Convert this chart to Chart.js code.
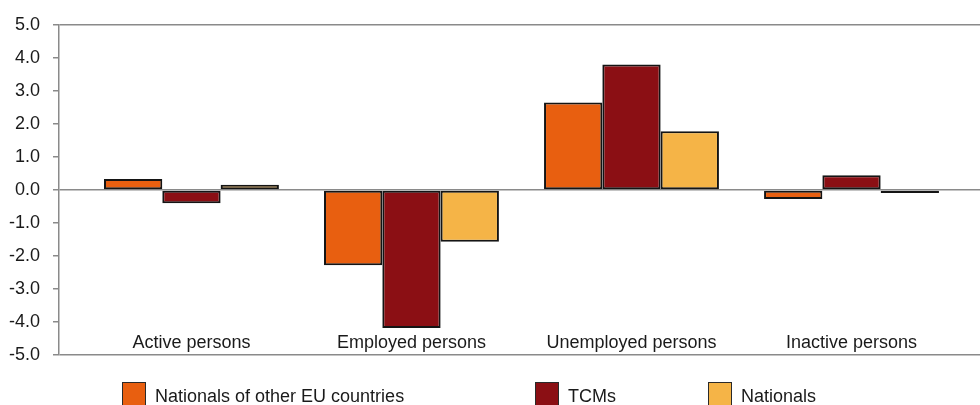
<!DOCTYPE html>
<html>
<head>
<meta charset="utf-8">
<script src="https://cdn.jsdelivr.net/npm/chart.js@4"></script>
<style>
  html, body { margin: 0; padding: 0; background: #fff; }
  #wrap { width: 980px; height: 405px; position: relative; }
</style>
</head>
<body>
<div id="wrap"><canvas id="labourChart"></canvas></div>
<script>
const categories = ['Active persons', 'Employed persons', 'Unemployed persons', 'Inactive persons'];
const seriesNames = ['Nationals of other EU countries', 'TCMs', 'Nationals'];
const otherEU = [0.33, -2.28, 2.65, -0.27];
const tcms = [-0.40, -4.18, 3.80, 0.45];
const nationals = [0.16, -1.57, 1.78, -0.09];
const yTicks = [5, 4, 3, 2, 1, 0, -1, -2, -3, -4, -5];

const colors = ['#E85F10', '#8B0F14', '#F5B447'];
const axisGray = '#8a8a8a';
const fontFamily = 'Arial, "Liberation Sans", sans-serif';

const toPoints = vals => vals.map((v, i) => ({ x: i, y: v }));

// category names sit inside the plot, just above the bottom line
const categoryLabels = {
  id: 'categoryLabels',
  afterDatasetsDraw(chart) {
    const { ctx, chartArea, scales } = chart;
    ctx.save();
    ctx.font = '18px ' + fontFamily;
    ctx.fillStyle = '#1a1a1a';
    ctx.textAlign = 'center';
    ctx.textBaseline = 'middle';
    categories.forEach((c, i) => {
      ctx.fillText(c, scales.x.getPixelForValue(i), chartArea.bottom - 12);
    });
    ctx.restore();
  }
};

// legend laid out in fixed columns under the plot
const columnLegend = {
  id: 'columnLegend',
  afterDraw(chart) {
    const { ctx } = chart;
    const lefts = [122, 535, 708];
    ctx.save();
    ctx.font = '18px ' + fontFamily;
    ctx.textBaseline = 'middle';
    chart.data.datasets.forEach((ds, i) => {
      const x = lefts[i];
      ctx.fillStyle = ds.backgroundColor;
      ctx.fillRect(x, 382, 23, 24);
      ctx.strokeStyle = '#2a2a2a';
      ctx.lineWidth = 1;
      ctx.strokeRect(x + 0.5, 382.5, 23, 24);
      ctx.fillStyle = '#1a1a1a';
      ctx.fillText(ds.label, x + 33, 397);
    });
    ctx.restore();
  }
};

const ctx = document.getElementById('labourChart').getContext('2d');
const labourChart = new Chart(ctx, {
  type: 'bar',
  data: {
    datasets: [
      { label: seriesNames[0], data: toPoints(otherEU), backgroundColor: colors[0] },
      { label: seriesNames[1], data: toPoints(tcms), backgroundColor: colors[1] },
      { label: seriesNames[2], data: toPoints(nationals), backgroundColor: colors[2] }
    ].map(ds => Object.assign(ds, {
      borderColor: '#141414',
      borderWidth: 2,
      borderSkipped: false,
      categoryPercentage: 0.795,
      barPercentage: 1.0
    }))
  },
  options: {
    responsive: true,
    maintainAspectRatio: false,
    animation: false,
    layout: { padding: { top: 25, bottom: 50, right: 0, left: 0 } },
    plugins: {
      legend: { display: false },
      tooltip: { enabled: false }
    },
    scales: {
      x: {
        type: 'linear',
        display: false,
        offset: false,
        min: -0.602,
        max: 3.584,
        // one tick per category so bar widths follow the category spacing
        afterBuildTicks(scale) { scale.ticks = categories.map((c, i) => ({ value: i })); }
      },
      y: {
        min: -5,
        max: 5,
        afterFit(scale) { scale.width = 59; },
        afterBuildTicks(scale) { scale.ticks = yTicks.map(v => ({ value: v })); },
        ticks: {
          padding: 13,
          color: '#1a1a1a',
          font: { family: fontFamily, size: 18 },
          callback: v => v.toFixed(1)
        },
        grid: {
          drawOnChartArea: true,
          tickLength: 6,
          lineWidth: 1.5,
          tickColor: axisGray,
          color: c => (c.tick && [5, 0, -5].includes(c.tick.value)) ? axisGray : 'rgba(0,0,0,0)'
        },
        border: { display: true, color: axisGray, width: 1.5 }
      }
    }
  },
  plugins: [categoryLabels, columnLegend]
});
</script>
</body>
</html>
